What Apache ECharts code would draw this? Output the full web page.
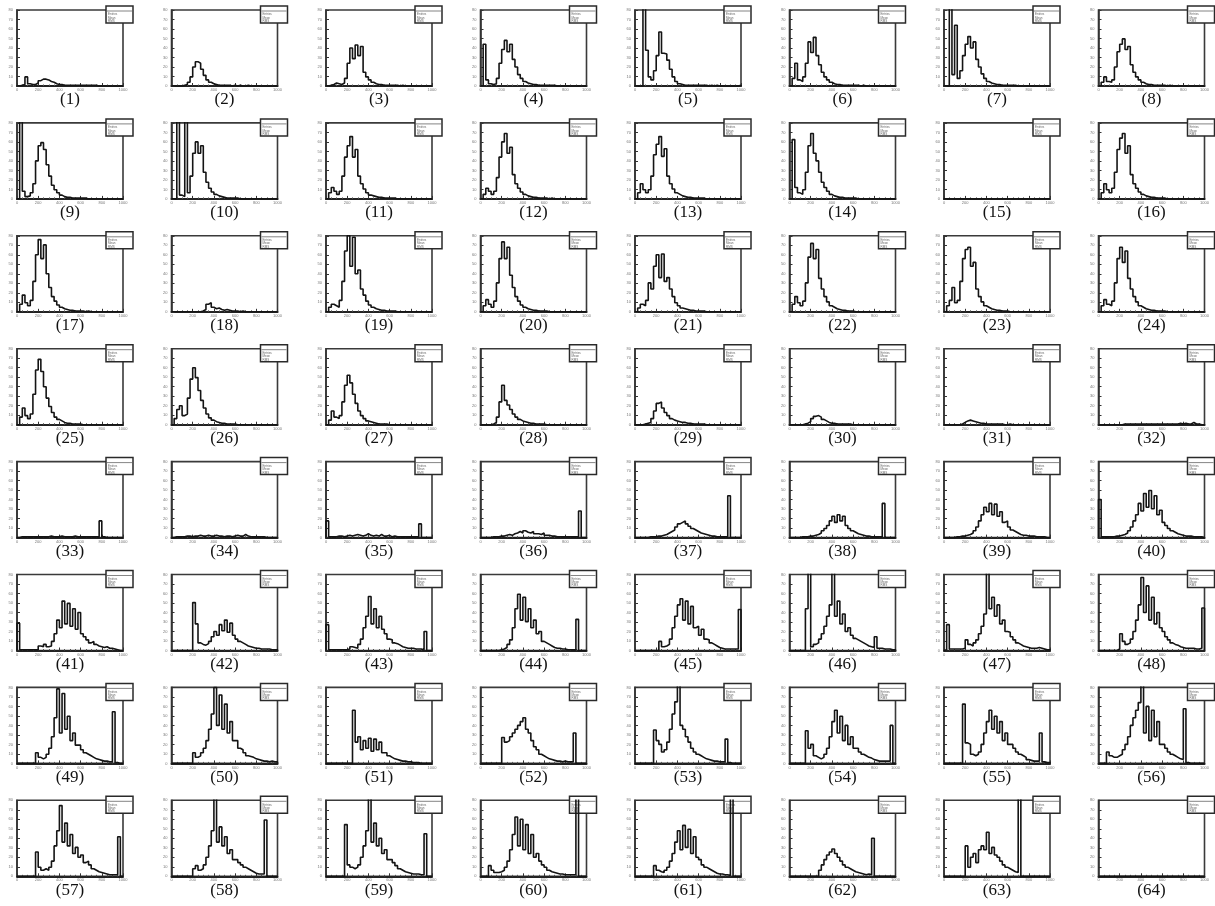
<!DOCTYPE html>
<html><head><meta charset="utf-8">
<script src="https://cdn.jsdelivr.net/npm/echarts@6/dist/echarts.min.js"></script>
<style>html,body{margin:0;padding:0;background:#fff}#c{width:1215px;height:906px}</style>
</head><body><div id="c"></div>
<script>
// ---- data (bin contents as % of each panel's frame height; 40 bins) ----
const panelLabels = ['(1)','(2)','(3)','(4)','(5)','(6)','(7)','(8)','(9)','(10)','(11)','(12)','(13)','(14)','(15)','(16)',
'(17)','(18)','(19)','(20)','(21)','(22)','(23)','(24)','(25)','(26)','(27)','(28)','(29)','(30)','(31)','(32)',
'(33)','(34)','(35)','(36)','(37)','(38)','(39)','(40)','(41)','(42)','(43)','(44)','(45)','(46)','(47)','(48)',
'(49)','(50)','(51)','(52)','(53)','(54)','(55)','(56)','(57)','(58)','(59)','(60)','(61)','(62)','(63)','(64)'];
const yTickLabels = ['0','10','20','30','40','50','60','70','80'];
const xTickLabels = ['0','200','400','600','800','1000'];
const statRows = ['Entries','Mean','RMS'];

const h1 = [0,1,2,12,3,2,2,4,7,9, 9,8,6,5,3,2,2,1,1,1, 1,1,1,1,1,1,1,1,1,1, 0,0,0,0,0,0,0,0,0,0];
const h2 = [0,0,0,0,1,2,5,12,25,32, 30,22,14,8,5,3,2,1,1,1, 1,1,0,1,0,1,0,0,1,0, 0,0,0,0,0,0,0,0,0,0];
const h3 = [0,1,2,4,3,2,4,10,30,50, 36,54,40,52,18,12,8,5,3,2, 2,1,1,1,1,1,1,0,1,0, 0,0,0,0,0,0,0,0,0,0];
const h4 = [0,55,8,3,2,3,10,30,48,60, 45,55,35,25,15,10,6,4,3,2, 2,1,1,1,1,1,1,1,0,0, 0,0,0,0,0,0,0,0,0,0];
const h5 = [0,0,0,120,47,12,8,20,40,71, 43,42,34,22,12,6,3,2,1,1, 1,1,1,1,1,1,1,0,1,0, 1,0,0,0,0,0,0,0,0,1];
const h6 = [0,10,30,8,6,12,30,58,44,64, 40,28,18,12,8,5,3,2,2,1, 1,1,1,1,1,1,0,1,0,0, 0,0,0,0,0,0,0,0,0,0];
const h7 = [0,0,110,15,80,10,20,40,55,65, 50,58,35,25,16,10,6,4,3,2, 2,1,1,1,1,1,1,0,0,0, 0,0,0,0,0,0,0,0,0,0];
const h8 = [0,5,12,6,5,8,25,45,55,62, 48,52,28,18,12,8,5,3,2,2, 1,1,1,1,1,0,1,0,0,0, 0,0,0,0,0,0,0,0,0,0];
const h9 = [0,110,10,3,4,8,20,50,70,74, 65,45,30,18,12,8,5,3,2,2, 1,1,1,1,1,1,0,0,0,0, 0,0,0,0,0,0,0,0,0,0];
const h10 = [0,0,110,5,3,110,8,30,60,75, 60,70,35,22,14,9,6,4,3,2, 1,1,1,1,1,0,0,0,0,0, 0,0,0,0,0,0,0,0,0,0];
const h11 = [0,8,15,10,6,10,30,55,70,82, 55,65,30,20,13,8,5,4,3,2, 2,1,1,1,1,1,0,0,0,0, 0,0,0,0,0,0,0,0,0,0];
const h12 = [0,6,14,10,6,10,28,55,75,86, 60,68,32,20,14,9,6,4,3,2, 2,1,1,1,1,0,1,0,0,0, 0,0,0,0,0,0,0,0,0,0];
const h13 = [0,8,20,12,8,12,30,58,72,82, 56,66,30,20,13,8,6,4,3,2, 2,1,1,1,1,1,0,0,0,0, 0,0,0,0,0,0,0,0,0,0];
const h14 = [0,78,15,8,6,12,35,70,86,60, 50,35,22,15,10,6,4,3,2,2, 1,1,1,1,1,0,0,0,0,0, 0,0,0,0,0,0,0,0,0,0];
const h15 = [0,0,0,0,0,0,0,0,0,0, 0,0,0,0,0,0,0,0,0,0, 0,0,0,0,0,0,0,0,0,0, 0,0,0,0,0,0,0,0,0,0];
const h16 = [0,8,20,12,8,14,35,65,80,86, 60,70,32,20,14,9,6,4,3,2, 2,1,1,1,1,0,0,0,0,0, 0,0,0,0,0,0,0,0,0,0];
const h17 = [0,10,22,12,8,15,40,75,95,70, 88,50,32,20,14,9,6,4,3,2, 2,1,1,1,1,0,1,0,0,0, 0,0,0,0,0,0,0,0,0,0];
const h18 = [0,0,0,0,0,0,0,0,0,0, 0,1,3,10,12,6,4,5,3,2, 3,2,1,1,1,0,1,0,0,0, 0,0,0,0,0,0,0,0,0,0];
const h19 = [0,6,10,8,6,15,40,80,100,60, 98,50,55,30,22,14,9,6,4,3, 2,2,1,1,1,1,0,0,0,0, 0,0,0,0,0,0,0,0,0,0];
const h20 = [0,8,16,10,6,14,38,70,92,70, 85,48,32,20,14,9,6,4,3,2, 2,1,1,1,1,0,0,0,0,0, 0,0,0,0,0,0,0,0,0,0];
const h21 = [0,5,10,8,15,38,30,60,75,45, 76,40,45,30,20,12,8,5,4,3, 2,2,1,1,1,1,0,0,0,0, 0,0,0,0,0,0,0,0,0,0];
const h22 = [0,10,20,12,8,14,38,72,90,70, 82,44,30,20,13,8,6,4,3,2, 2,1,1,1,0,0,0,0,0,0, 0,0,0,0,0,0,0,0,0,0];
const h23 = [0,8,15,32,12,15,40,70,82,85, 60,65,30,20,13,8,6,4,3,2, 2,1,1,1,0,0,0,0,0,0, 0,0,0,0,0,0,0,0,0,0];
const h24 = [0,8,16,10,8,14,38,70,85,65, 80,44,30,20,13,8,6,4,3,2, 2,1,1,1,1,0,0,0,0,0, 0,0,0,0,0,0,0,0,0,0];
const h25 = [0,10,22,12,8,14,40,72,86,70, 50,35,24,16,10,7,5,3,2,2, 1,1,1,1,0,0,0,0,0,0, 0,0,0,0,0,0,0,0,0,0];
const h26 = [0,8,20,25,12,14,35,60,75,62, 45,32,22,14,9,6,4,3,2,2, 1,1,1,1,0,0,0,0,0,0, 0,0,0,0,0,0,0,0,0,0];
const h27 = [0,6,18,10,8,12,30,52,65,55, 40,28,18,12,8,5,4,3,2,1, 1,1,1,0,0,0,0,0,0,0, 0,0,0,0,0,0,0,0,0,0];
const h28 = [0,0,0,0,1,3,10,30,52,32, 26,20,14,10,7,5,4,3,2,2, 1,1,1,1,0,0,0,0,0,0, 0,0,0,0,0,0,0,0,0,0];
const h29 = [0,0,0,1,2,3,8,18,28,30, 22,16,12,8,6,5,4,3,3,2, 2,1,1,1,1,1,0,0,0,0, 0,0,0,0,0,0,0,0,0,0];
const h30 = [0,0,0,0,0,1,2,4,8,11, 12,10,7,5,3,2,2,1,1,1, 1,1,1,0,0,0,0,0,0,0, 0,0,0,0,0,0,0,0,0,0];
const h31 = [0,0,0,0,0,0,1,3,5,6, 5,4,3,2,2,1,1,1,1,1, 1,1,0,0,1,0,0,0,0,0, 0,0,0,0,0,0,0,0,0,0];
const h32 = [0,0,0,0,0,0,0,0,0,1, 1,1,1,1,1,1,1,1,1,1, 1,1,1,1,1,1,1,1,1,1, 2,1,2,1,1,3,1,1,0,0];
const h33 = [0,1,1,1,1,1,1,1,1,1, 1,1,2,1,1,1,2,1,1,1, 1,2,1,1,1,1,1,1,1,1, 1,22,1,0,0,0,0,0,0,0];
const h34 = [0,1,1,1,1,2,2,1,2,2, 3,2,2,3,2,2,3,2,2,1, 2,2,1,2,3,2,2,4,2,1, 1,1,1,1,1,0,0,0,0,0];
const h35 = [22,1,1,1,2,2,1,2,3,2, 3,4,3,2,3,5,3,2,3,2, 4,2,2,3,1,2,1,1,1,1, 1,1,1,1,1,18,0,0,0,0];
const h36 = [0,0,0,0,1,1,1,2,2,3, 4,3,5,6,8,6,9,7,6,8, 5,5,4,6,3,3,2,2,1,1, 1,1,1,1,1,1,1,35,0,0];
const h37 = [0,0,0,0,0,1,1,1,2,2, 3,4,6,8,10,14,18,20,22,18, 15,12,10,8,6,5,4,3,2,2, 1,1,1,1,1,55,0,0,0,0];
const h38 = [0,0,0,0,1,1,1,2,2,3, 4,6,9,12,16,22,28,20,30,22, 28,16,12,9,7,5,4,3,2,2, 1,1,1,1,1,45,0,0,0,0];
const h39 = [0,0,0,0,1,1,2,2,3,4, 6,9,14,22,30,40,34,45,30,44, 28,34,20,22,14,10,8,6,4,3, 3,2,2,2,1,1,1,1,0,0];
const h40 = [50,1,1,1,1,1,2,2,3,4, 6,9,14,22,30,45,35,58,40,62, 38,55,30,36,20,16,12,9,7,5, 4,3,2,2,2,1,1,1,1,0];
const h41 = [36,1,1,1,1,1,1,1,6,5, 8,5,6,12,22,40,30,65,35,62, 32,55,28,50,22,18,14,10,12,8, 6,5,4,5,3,3,2,1,0,0];
const h42 = [0,0,0,0,0,0,0,0,63,35, 10,8,7,9,12,18,25,20,34,26, 40,24,36,20,15,12,10,8,6,5, 4,3,3,2,2,2,2,1,1,1];
const h43 = [34,1,1,1,1,1,1,1,2,5, 4,3,8,15,30,45,71,35,55,30, 45,28,22,15,14,10,9,7,5,4, 3,3,3,2,2,2,1,25,0,0];
const h44 = [0,0,0,0,0,0,0,1,2,4, 8,14,30,55,74,40,70,38,55,30, 40,22,25,12,10,8,6,4,3,3, 2,2,1,1,1,1,41,0,0,0];
const h45 = [0,0,0,0,0,0,0,0,0,12, 5,6,8,15,30,45,60,68,40,65, 35,58,30,32,20,28,15,14,10,8, 6,4,3,2,2,2,2,2,2,54];
const h46 = [0,0,0,0,0,0,55,120,5,8, 10,15,22,32,45,60,110,45,65,35, 48,25,30,20,16,14,12,10,8,6, 5,4,18,3,3,2,2,2,1,1];
const h47 = [1,34,2,2,2,2,2,3,14,8, 6,10,14,22,32,48,110,55,70,45, 60,35,40,25,24,18,14,10,8,6, 5,4,3,3,3,4,3,2,1,1];
const h48 = [0,0,0,0,0,0,0,2,22,12, 8,10,15,25,40,60,96,50,85,40, 70,35,50,30,25,18,14,10,8,7, 5,4,3,3,3,3,2,2,3,56];
const h49 = [0,0,0,0,0,0,0,14,8,6, 8,12,20,35,60,98,40,92,45,62, 30,40,24,24,18,14,12,10,8,6, 5,4,3,3,2,2,68,1,0,0];
const h50 = [0,0,0,0,0,0,0,0,14,8, 10,14,20,30,45,65,100,50,90,45, 78,40,55,30,30,20,18,14,10,9, 8,6,5,4,3,3,2,3,2,2];
const h51 = [0,0,0,0,0,0,0,0,0,0, 70,28,35,18,30,20,33,16,32,18, 28,14,14,10,8,6,5,4,3,3, 2,2,1,1,1,0,0,0,0,0];
const h52 = [0,0,0,0,0,0,0,0,34,28, 30,35,40,45,50,55,60,45,40,30, 22,18,12,10,8,6,5,4,3,3, 2,3,2,2,2,40,0,0,0,0];
const h53 = [0,0,0,0,0,0,0,44,30,25, 15,18,28,45,65,81,110,50,45,35, 28,20,15,12,10,8,6,5,4,3, 3,2,2,2,32,1,0,0,0,0];
const h54 = [0,0,0,0,0,0,43,20,25,10, 8,6,8,12,20,35,55,70,40,62, 30,50,25,35,20,20,15,12,10,8, 7,5,4,3,3,3,3,3,50,0];
const h55 = [0,0,0,0,0,0,0,78,27,25, 12,10,12,15,25,40,55,70,45,62, 40,55,30,40,25,25,20,15,12,10, 8,5,4,3,3,3,40,2,1,1];
const h56 = [0,0,0,15,10,8,8,10,12,18, 25,35,50,60,70,80,110,40,75,30, 70,35,55,25,25,20,15,12,10,8, 6,5,72,1,0,0,0,0,0,0];
const h57 = [0,0,0,0,0,0,0,32,12,8, 10,8,12,20,40,60,93,45,70,40, 55,30,38,25,28,18,20,15,10,8, 6,5,4,3,2,2,2,2,52,0];
const h58 = [0,0,0,0,0,0,0,0,10,14, 8,10,15,25,40,60,110,45,65,40, 52,30,35,22,22,18,15,12,10,8, 6,4,3,3,3,74,0,0,0,0];
const h59 = [0,0,0,0,0,0,0,68,15,12, 10,12,15,25,40,60,110,45,70,40, 50,30,35,22,22,18,14,10,8,6, 5,4,3,3,3,2,2,56,0,0];
const h60 = [0,0,0,14,8,5,5,6,8,12, 20,35,55,78,40,75,35,68,30,55, 25,30,20,15,12,8,6,5,4,3, 3,2,2,2,2,2,110,0,0,0];
const h61 = [0,0,0,0,0,0,0,14,8,6, 5,8,12,20,30,45,60,35,67,38, 62,30,52,25,22,15,12,10,8,6, 4,3,3,2,2,1,110,0,0,0];
const h62 = [0,0,0,0,0,0,0,0,0,0, 0,8,15,22,28,32,36,30,25,20, 15,12,10,8,6,5,4,3,2,3, 2,50,0,0,0,0,0,0,0,0];
const h63 = [0,0,0,0,0,0,0,0,40,12, 25,30,18,35,40,35,58,30,38,28, 25,20,15,12,10,8,6,5,110,0, 0,0,0,0,0,0,0,0,0,0];
const h64 = [0,0,0,0,0,0,0,0,0,0, 0,0,0,0,0,0,0,0,0,0, 0,0,0,0,0,0,0,0,0,0, 0,0,0,0,0,0,0,0,0,0];

const histograms = [h1,h2,h3,h4,h5,h6,h7,h8,h9,h10,h11,h12,h13,h14,h15,h16,h17,h18,h19,h20,h21,h22,h23,h24,
h25,h26,h27,h28,h29,h30,h31,h32,h33,h34,h35,h36,h37,h38,h39,h40,h41,h42,h43,h44,h45,h46,h47,h48,
h49,h50,h51,h52,h53,h54,h55,h56,h57,h58,h59,h60,h61,h62,h63,h64];

// ---- layout ----
const NB = 40, COLS = 8;
const X0 = 17, DX = 154.5, FW = 106;
const Y0 = 10, DY = 112.9, FH = 76;

const grids = [], xAxes = [], yAxes = [], series = [], graphics = [];
histograms.forEach((vals, i) => {
  const r = Math.floor(i / COLS), c = i % COLS;
  const left = X0 + DX * c, top = Y0 + DY * r;
  grids.push({left: left, top: top, width: FW, height: FH, show: true,
    borderColor: '#3a3a3a', borderWidth: 1.6, backgroundColor: '#fff', containLabel: false});
  xAxes.push({type: 'value', gridIndex: i, min: 0, max: NB, interval: 8,
    axisLine: {show: true, onZero: false, lineStyle: {color: '#222', width: 2}},
    axisTick: {show: true, inside: true, length: 3, lineStyle: {color: '#333', width: 1}},
    minorTick: {show: true, splitNumber: 4, length: 1.5, lineStyle: {color: '#555'}},
    splitLine: {show: false},
    axisLabel: {show: true, fontSize: 4, color: '#777', margin: 2,
      formatter: v => xTickLabels[Math.round(v / 8)]}});
  yAxes.push({type: 'value', gridIndex: i, min: 0, max: 100, interval: 12.5,
    axisLine: {show: true, lineStyle: {color: '#333', width: 1.6}},
    axisTick: {show: true, inside: true, length: 3, lineStyle: {color: '#333', width: 1}},
    splitLine: {show: false},
    axisLabel: {show: true, fontSize: 4, color: '#777', margin: 4,
      formatter: v => yTickLabels[Math.round(v / 12.5)]}});
  const pts = [[0, 0]];
  vals.forEach((v, k) => pts.push([k + 1, v]));
  pts.push([vals.length, 0]);
  series.push({type: 'line', xAxisIndex: i, yAxisIndex: i, data: pts, step: 'start',
    showSymbol: false, symbol: 'none', clip: true, silent: true, animation: false,
    lineStyle: {color: '#141414', width: 1.6}});
  // stats box
  const bx = left + FW - 17, by = top - 4;
  const kids = [
    {type: 'rect', shape: {x: 0, y: 0, width: 27, height: 17},
      style: {fill: '#fff', stroke: '#2a2a2a', lineWidth: 1.5}},
    {type: 'line', shape: {x1: 1, y1: 5, x2: 26, y2: 5}, style: {stroke: '#666', lineWidth: 0.8}}
  ];
  statRows.forEach((t, k) => {
    kids.push({type: 'text', x: 2, y: 7 + k * 3.3,
      style: {text: t, fontSize: 3, fill: '#666', fontFamily: 'Liberation Sans'}});
  });
  graphics.push({type: 'group', x: bx, y: by, z: 100, children: kids});
  // panel label
  graphics.push({type: 'text', x: left + FW / 2, y: top + FH + 14, z: 100,
    style: {text: panelLabels[i], fontSize: 17, fill: '#111', fontFamily: 'Liberation Serif',
      align: 'center', verticalAlign: 'middle'}});
});

const chart = echarts.init(document.getElementById('c'), null, {renderer: 'canvas'});
chart.setOption({animation: false, backgroundColor: '#fff',
  grid: grids, xAxis: xAxes, yAxis: yAxes, series: series, graphic: graphics});
</script>
</body></html>
